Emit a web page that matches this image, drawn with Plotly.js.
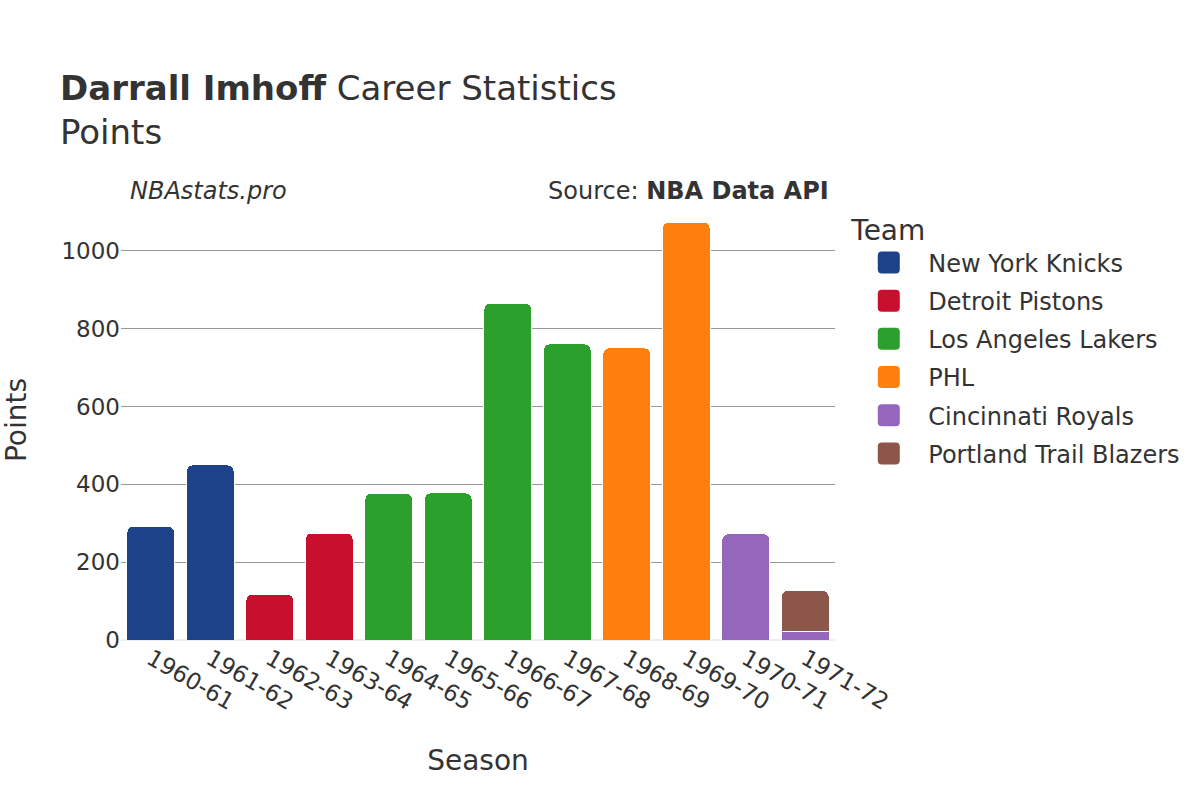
<!DOCTYPE html>
<html>
<head>
<meta charset="utf-8">
<script src="https://cdn.plot.ly/plotly-3.0.1.min.js"></script>
<style>body{margin:0;background:#fff}</style>
</head>
<body>
<div id="chart" style="width:1200px;height:800px"></div>
<script>
// seasons and points per team
var knicksSeasons = ['1960-61', '1961-62'];
var knicksPoints = [292, 450];
var pistonsSeasons = ['1962-63', '1963-64'];
var pistonsPoints = [118, 275];
var lakersSeasons = ['1964-65', '1965-66', '1966-67', '1967-68'];
var lakersPoints = [377, 378, 866, 761];
var phlSeasons = ['1968-69', '1969-70'];
var phlPoints = [751, 1074];
var royalsSeasons = ['1970-71', '1971-72'];
var royalsPoints = [273, 22];
var blazersSeasons = ['1971-72'];
var blazersPoints = [105];

function team(name, x, y, color) {
    return {
        type: 'bar',
        name: name,
        legendgroup: name,
        x: x,
        y: y,
        marker: {color: color, line: {color: '#ffffff', width: 1}},
        hovertemplate: '%{x}: %{y}<extra>' + name + '</extra>'
    };
}

var data = [
    team('New York Knicks', knicksSeasons, knicksPoints, '#1d428a'),
    team('Detroit Pistons', pistonsSeasons, pistonsPoints, '#c8102e'),
    team('Los Angeles Lakers', lakersSeasons, lakersPoints, '#2ca02c'),
    team('PHL', phlSeasons, phlPoints, '#ff7f0e'),
    team('Cincinnati Royals', royalsSeasons, royalsPoints, '#9467bd'),
    team('Portland Trail Blazers', blazersSeasons, blazersPoints, '#8c564b')
];

var layout = {
    width: 1200,
    height: 800,
    font: {family: 'DejaVu Sans', color: '#333', size: 23},
    paper_bgcolor: '#fff',
    plot_bgcolor: '#fff',
    margin: {l: 121, r: 365, t: 200, b: 160},
    barmode: 'stack',
    bargap: 0.2,
    barcornerradius: 6,
    title: {
        text: '<b>Darrall Imhoff</b> Career Statistics<br>Points',
        x: 0.05,
        xanchor: 'left',
        y: 0.875,
        yanchor: 'top',
        font: {size: 34, color: '#333'}
    },
    xaxis: {
        title: {text: 'Season', font: {size: 28}, standoff: 36},
        tickangle: 30,
        tickfont: {size: 23},
        showgrid: false
    },
    yaxis: {
        title: {text: 'Points', font: {size: 28}, standoff: 30},
        tickfont: {size: 23},
        gridcolor: '#999',
        zeroline: true,
        zerolinecolor: '#eee',
        zerolinewidth: 2,
        range: [0, 1131]
    },
    legend: {
        title: {text: 'Team', font: {size: 28}},
        traceorder: 'grouped',
        tracegroupgap: 4,
        x: 1.02,
        xanchor: 'left',
        y: 0.991,
        yanchor: 'top',
        font: {size: 24},
        itemwidth: 69
    },
    annotations: [
        {
            text: '<i>NBAstats.pro</i>',
            xref: 'paper', yref: 'paper',
            x: 0.01, y: 1.0205,
            xanchor: 'left', yanchor: 'middle',
            showarrow: false,
            font: {size: 24}
        },
        {
            text: 'Source: <b>NBA Data API</b>',
            xref: 'paper', yref: 'paper',
            x: 0.995, y: 1.0205,
            xanchor: 'right', yanchor: 'middle',
            showarrow: false,
            font: {size: 24}
        }
    ]
};

Plotly.newPlot('chart', data, layout, {displayModeBar: false}).then(function(gd) {
    // larger rounded legend swatches
    gd.querySelectorAll('.legend .legendpoints path').forEach(function(p) {
        p.setAttribute('d', 'M11,7a4,4,0,0,1-4,4H-7a4,4,0,0,1-4-4V-7a4,4,0,0,1,4-4H7a4,4,0,0,1,4,4Z');
        p.style.strokeWidth = '0px';
    });
});
</script>
</body>
</html>
